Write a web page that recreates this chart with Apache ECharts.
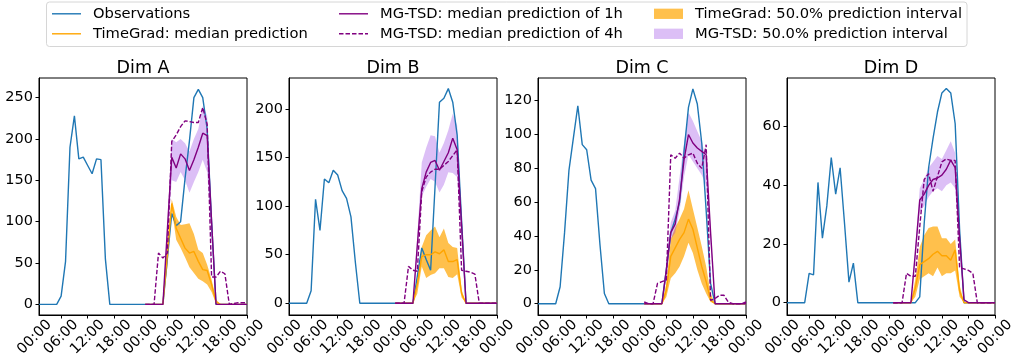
<!DOCTYPE html>
<html><head><meta charset="utf-8">
<script src="https://cdn.jsdelivr.net/npm/echarts@6/dist/echarts.min.js"></script>
<style>html,body{margin:0;padding:0;background:#fff}#c{width:1012px;height:360px}</style>
</head><body><div id="c"></div>
<script>
const PANELS = ['Dim A', 'Dim B', 'Dim C', 'Dim D'];
const X_TICK_HOURS = [0, 6, 12, 18, 24, 30, 36, 42, 48];
const X_TICK_LABELS = ['00:00', '06:00', '12:00', '18:00', '00:00', '06:00', '12:00', '18:00', '00:00'];
const Y_TICKS = [
  [0, 50, 100, 150, 200, 250],
  [0, 50, 100, 150, 200],
  [0, 20, 40, 60, 80, 100, 120],
  [0, 20, 40, 60]
];
const Y_RANGE = [[-12.9, 273.8], [-12.05, 231.9], [-6.68, 133.4], [-4.2, 76.6]];

const OBS_HOURS = [1,2,3,4,5,6,7,8,9,10,11,12,13,14,15,16,17,18,19,20,21,22,23,24,25,26,27,28,29,30,31,32,33,34,35,36,37,38,39,40,41,42,43,44,45,46,47,48];
const PRED_HOURS = [25,26,27,28,29,30,31,32,33,34,35,36,37,38,39,40,41,42,43,44,45,46,47,48];

// Observations
const obsA = [0,0,0,0,0, 10,52,190,228,176,178,168,158,176,175,55,0, 0,0,0,0,0,0,0,0,0,0,0,0, 55,110,95,100,152,198,250,260,250,212,100,0, 0,0,0,0,0,0,0];
const obsB = [0,0,0,0,0, 13,107,75,128,124,137,132,116,108,89,42,0, 0,0,0,0,0,0,0,0,0,0,0,0, 28,57,45,34,120,207,211,221,207,173,85,0, 0,0,0,0,0,0,0];
const obsC = [0,0,0,0,0, 10,42,79,98,117,94,91,73,68,35,6,0, 0,0,0,0,0,0,0,0,0,0,0,0, 20,42,50,60,90,116,127,118,95,55,12,0, 0,0,0,0,0,0,0];
const obsD = [0,0,0,0,0, 10,9.5,41,22,33,49.5,37,46,27,7,13.5,0, 0,0,0,0,0,0,0,0,0,0,0,0, 0,2,27,46,56,65,71.5,73,71.5,61,25,0, 0,0,0,0,0,0,0];

// TimeGrad median and 50% interval
const tgA = [0,0,0,0,0, 60,122,92,80,68,62,64,52,42,41,24,3, 0,0,0,0,0,0,0];
const tgALo = [0,0,0,0,0, 45,115,78,68,57,45,38,31,28,24,15,1, 0,0,0,0,0,0,0];
const tgAHi = [0,0,0,0,0, 75,127,106,96,97,98,85,66,62,48,30,6, 0,0,0,0,0,0,0];
const tgB = [0,0,0,0,0, 20,48,50,50,53,51,55,43,43,45,10,0, 0,0,0,0,0,0,0];
const tgBLo = [0,0,0,0,0, 10,38,26,29,31,36,36,27,26,30,6,0, 0,0,0,0,0,0,0];
const tgBHi = [0,0,0,0,0, 25,58,70,75,79,68,77,62,58,57,14,0, 0,0,0,0,0,0,0];
const tgC = [0,0,0,0,0, 8,28,33,38,42,50,44,33,22,13,2,0, 0,0,0,0,0,0,0];
const tgCLo = [0,0,0,0,0, 4,15,18,22,28,36,30,20,12,6,1,0, 0,0,0,0,0,0,0];
const tgCHi = [0,0,0,0,0, 12,38,45,50,56,67,56,45,34,22,6,0, 0,0,0,0,0,0,0];
const tgD = [0,0,0,0,0, 5,13,14,15,16.5,17.5,16,16,14.5,18,4,0, 0,0,0,0,0,0,0];
const tgDLo = [0,0,0,0,0, 2,8,9,10,9,12,9,10,10,11,2,0, 0,0,0,0,0,0,0];
const tgDHi = [0,0,0,0,0, 8,19,23,25.5,26,26,22,22,20,21.5,6,0, 0,0,0,0,0,0,0];

// MG-TSD medians (1h, 4h) and 50% interval
const mg1A = [0,0,0,0,0, 90,178,165,182,176,162,175,190,207,204,100,0, 0,0,0,0,0,0,0];
const mg4A = [0,0,0,62,56,62,197,205,215,222,221,220,220,238,218,33,33,40,37,0,1,2,2,2];
const mgALo = [0,0,0,0,0, 80,150,148,160,150,135,148,160,175,160,80,0, 0,0,0,0,0,0,0];
const mgAHi = [0,0,0,0,0, 100,200,196,200,195,185,200,212,240,228,110,0, 0,0,0,0,0,0,0];
const mg1B = [0,0,0,0,0, 60,118,135,145,147,137,146,155,170,158,80,0, 0,0,0,0,0,0,0];
const mg4B = [0,0,0,38,34,33,115,130,135,138,138,142,146,152,158,34,33,32,30,0,0,0,0,0];
const mgBLo = [0,0,0,0,0, 50,110,120,128,125,114,122,135,134,130,65,0, 0,0,0,0,0,0,0];
const mgBHi = [0,0,0,0,0, 70,145,160,173,172,155,165,178,195,183,90,0, 0,0,0,0,0,0,0];
const mg1C = [0,0,0,0,0, 20,42,47,62,85,100,95,92,90,88,42,0, 0,0,0,0,0,0,0];
const mg4C = [1,0,0,12,13,14,88,86,89,86,88,89,83,80,94,2,3,5,5,1,0,0,0,1];
const mgCLo = [0,0,0,0,0, 15,38,42,55,75,88,84,80,76,70,35,0, 0,0,0,0,0,0,0];
const mgCHi = [0,0,0,0,0, 25,48,55,75,95,113,108,102,96,85,45,0, 0,0,0,0,0,0,0];
const mg1D = [0,0,0,0,0, 17,35,37,40,42,42.5,43.5,45.5,48.6,46,22,1, 0,0,0,0,0,0,0];
const mg4D = [0,0,0,10,9,9,26,42,44,38,43,48,49,48.5,48.5,12,11.5,11,10,0,0,0,0,0];
const mgDLo = [0,0,0,0,0, 15,31,33,36,38,39,38,40,41,39,18,0, 0,0,0,0,0,0,0];
const mgDHi = [0,0,0,0,0, 19,39,42,46,48,50,49,52,55,51,25,1, 0,0,0,0,0,0,0];

const OBS = [obsA, obsB, obsC, obsD];
const TG = [tgA, tgB, tgC, tgD];
const TG_LO = [tgALo, tgBLo, tgCLo, tgDLo];
const TG_HI = [tgAHi, tgBHi, tgCHi, tgDHi];
const MG1 = [mg1A, mg1B, mg1C, mg1D];
const MG4 = [mg4A, mg4B, mg4C, mg4D];
const MG_LO = [mgALo, mgBLo, mgCLo, mgDLo];
const MG_HI = [mgAHi, mgBHi, mgCHi, mgDHi];

const S_OBS = 'Observations';
const S_TG = 'TimeGrad: median prediction';
const S_MG1 = 'MG-TSD: median prediction of 1h';
const S_MG4 = 'MG-TSD: median prediction of 4h';
const S_TGB = 'TimeGrad: 50.0% prediction interval';
const S_MGB = 'MG-TSD: 50.0% prediction interval';

const C_OBS = '#1f77b4', C_TG = '#ffa500', C_MG = '#800080';
const C_TGB = 'rgba(255,165,0,0.7)', C_MGB = 'rgba(138,43,226,0.3)';
const FONT = 'DejaVu Sans';
const TICK_FS = 14.5;
const LW = 1.4;

const GRID_LEFT = [39, 289, 538, 787];
const GRID_TOP = 78, GRID_W = 208, GRID_H = 237;
const X_LABEL_MARGIN = 22;

const chart = echarts.init(document.getElementById('c'), null, { renderer: 'canvas' });

function lineSeries(name, hours, vals, gi, color, dashed) {
  return {
    type: 'line', name, xAxisIndex: gi, yAxisIndex: gi,
    data: hours.map((h, i) => [h, vals[i]]),
    symbol: 'none', silent: true, z: 3,
    lineStyle: { color, width: LW, type: dashed ? [4.5, 2] : 'solid' },
    itemStyle: { color },
    emphasis: { disabled: true }
  };
}
function bandSeries(name, lo, hi, gi, color) {
  const data = PRED_HOURS.map((h, i) => [h, lo[i], hi[i]]);
  return {
    type: 'custom', name, xAxisIndex: gi, yAxisIndex: gi, z: 2, silent: true,
    data, encode: { x: 0, y: [1, 2] },
    itemStyle: { color },
    renderItem(params, api) {
      if (params.dataIndex !== 0) return null;
      const top = data.map(d => api.coord([d[0], d[2]]));
      const bot = data.map(d => api.coord([d[0], d[1]])).reverse();
      return { type: 'polygon', shape: { points: top.concat(bot) }, style: { fill: color } };
    }
  };
}

const series = [];
for (let i = 0; i < 4; i++) {
  series.push(bandSeries(S_TGB, TG_LO[i], TG_HI[i], i, C_TGB));
  series.push(bandSeries(S_MGB, MG_LO[i], MG_HI[i], i, C_MGB));
  series.push(lineSeries(S_OBS, OBS_HOURS, OBS[i], i, C_OBS, false));
  series.push(lineSeries(S_TG, PRED_HOURS, TG[i], i, C_TG, false));
  series.push(lineSeries(S_MG1, PRED_HOURS, MG1[i], i, C_MG, false));
  series.push(lineSeries(S_MG4, PRED_HOURS, MG4[i], i, C_MG, true));
}

const LINE_ICON = 'path://M0,0H29V1.4H0Z';
const DASH_ICON = 'path://M0,0H4.5V1.4H0Z M6.5,0H11V1.4H6.5Z M13,0H17.5V1.4H13Z M19.5,0H24V1.4H19.5Z M26,0H29V1.4H26Z';
const LEG_COL_X = [52, 339, 654];
const LEG_ROW_Y = [6.3, 26.3];
const LEGEND_ITEMS = [
  { name: S_OBS, col: 0, row: 0, icon: LINE_ICON, color: C_OBS },
  { name: S_TG, col: 0, row: 1, icon: LINE_ICON, color: C_TG },
  { name: S_MG1, col: 1, row: 0, icon: LINE_ICON, color: C_MG },
  { name: S_MG4, col: 1, row: 1, icon: DASH_ICON, color: C_MG },
  { name: S_TGB, col: 2, row: 0, icon: 'rect', color: C_TGB },
  { name: S_MGB, col: 2, row: 1, icon: 'rect', color: C_MGB }
];
const legend = LEGEND_ITEMS.map(it => ({
  left: LEG_COL_X[it.col], top: LEG_ROW_Y[it.row], padding: 0,
  itemWidth: 29, itemHeight: 10.3, symbolKeepAspect: true, selectedMode: false,
  data: [{ name: it.name, icon: it.icon, itemStyle: { color: it.color, borderWidth: 0, opacity: 1 } }],
  textStyle: { fontFamily: FONT, fontSize: 14.7, color: '#000', padding: [0, 0, 0, 7] }
}));

const grid = GRID_LEFT.map(l => ({
  left: l, top: GRID_TOP, width: GRID_W, height: GRID_H,
  show: true, borderColor: '#000', borderWidth: 1, backgroundColor: 'transparent',
  containLabel: false, outerBoundsMode: 'none'
}));

const xAxis = GRID_LEFT.map((l, i) => ({
  type: 'value', gridIndex: i, min: OBS_HOURS[0], max: OBS_HOURS[OBS_HOURS.length - 1],
  splitLine: { show: false },
  axisLine: { show: true, onZero: false, lineStyle: { color: '#000', width: 1 } },
  axisTick: { show: true, length: 3.5, lineStyle: { color: '#000', width: 1 }, customValues: X_TICK_HOURS.slice(1) },
  axisLabel: {
    customValues: X_TICK_HOURS.slice(1), rotate: 45, margin: X_LABEL_MARGIN,
    align: 'center', verticalAlign: 'middle',
    color: '#000', fontSize: TICK_FS, fontFamily: FONT,
    formatter: v => X_TICK_LABELS[X_TICK_HOURS.indexOf(v)]
  }
}));
const yAxis = GRID_LEFT.map((l, i) => ({
  type: 'value', gridIndex: i, min: Y_RANGE[i][0], max: Y_RANGE[i][1],
  splitLine: { show: false },
  axisLine: { show: true, onZero: false, lineStyle: { color: '#000', width: 1 } },
  axisTick: { show: true, length: 3.5, lineStyle: { color: '#000', width: 1 }, customValues: Y_TICKS[i] },
  axisLabel: { customValues: Y_TICKS[i], margin: 6, color: '#000', fontSize: TICK_FS, fontFamily: FONT }
}));

const title = PANELS.map((t, i) => ({
  text: t, left: GRID_LEFT[i] + GRID_W / 2, top: 59.5, textAlign: 'center', textVerticalAlign: 'top', padding: 0,
  textStyle: { fontSize: 17.5, fontWeight: 'normal', color: '#000', fontFamily: FONT }
}));

const frame = {
  id: 'legendFrame', type: 'rect', z: 0,
  shape: { x: 46.5, y: 2, width: 920.5, height: 44.5, r: 3 },
  style: { fill: '#fff', stroke: '#d6d6d6', lineWidth: 1 }
};

chart.setOption({
  animation: false,
  backgroundColor: '#fff',
  title, legend, grid, xAxis, yAxis, series,
  graphic: [frame]
});

// First "00:00" tick label lies just left of the plotted range; place it through the axis scale.
const firstLabels = GRID_LEFT.map((l, i) => ({
  id: 'first' + i, type: 'text', z: 5,
  x: chart.convertToPixel({ xAxisIndex: i }, X_TICK_HOURS[0]),
  y: GRID_TOP + GRID_H + X_LABEL_MARGIN,
  rotation: Math.PI / 4,
  style: { text: X_TICK_LABELS[0], font: TICK_FS + 'px "' + FONT + '"', fill: '#000', align: 'center', verticalAlign: 'middle' }
}));
chart.setOption({ graphic: [frame].concat(firstLabels) });
</script>
</body></html>
